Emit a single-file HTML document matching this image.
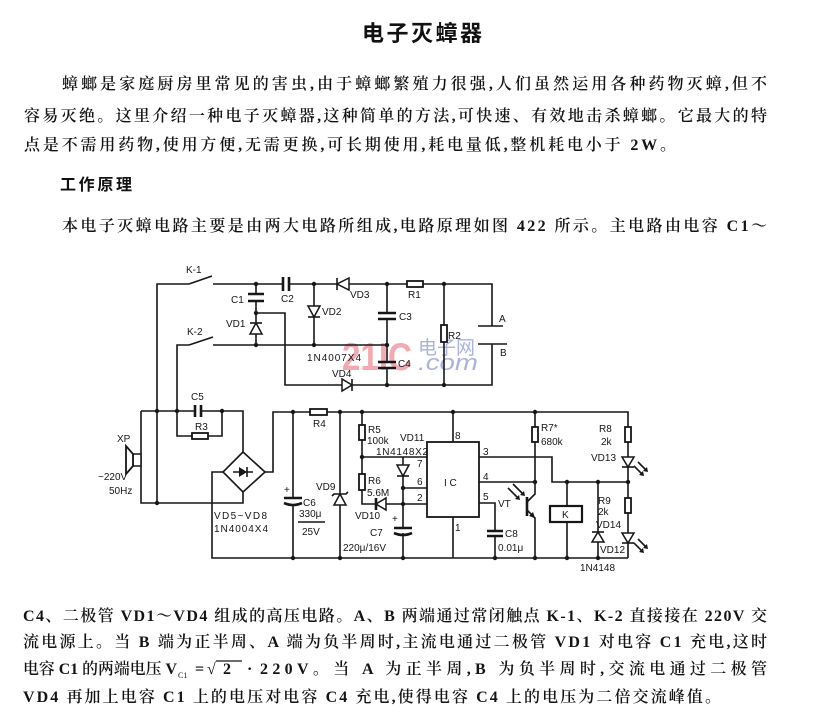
<!DOCTYPE html>
<html><head><meta charset="utf-8">
<style>
html,body{margin:0;padding:0;background:#fff;}
body{width:827px;height:712px;overflow:hidden;}
svg{display:block;}
.t{font-family:"Liberation Serif","Noto Serif CJK SC",serif;font-size:16px;font-weight:600;fill:#141414;}
.h{font-family:"Liberation Sans","Noto Sans CJK SC",sans-serif;font-weight:bold;fill:#111;}
.l{font-family:"Liberation Sans",sans-serif;font-size:10px;fill:#161616;}
.w{stroke:#161616;stroke-width:1.6;fill:none;}
.c{stroke:#161616;stroke-width:2.6;fill:none;}
.d{fill:#161616;}
.dio{fill:#fff;stroke:#161616;stroke-width:1.5;}
.r{fill:#fff;stroke:#161616;stroke-width:1.8;}
</style></head>
<body>
<svg width="827" height="712" viewBox="0 0 827 712" xmlns="http://www.w3.org/2000/svg">
<!-- Title -->
<text class="h" x="362" y="41" font-size="22" textLength="120" lengthAdjust="spacing">电子灭蟑器</text>

<!-- Paragraph 1 -->
<text class="t" x="62" y="89" textLength="705" lengthAdjust="spacing">蟑螂是家庭厨房里常见的害虫,由于蟑螂繁殖力很强,人们虽然运用各种药物灭蟑,但不</text>
<text class="t" x="24" y="121" textLength="743" lengthAdjust="spacing">容易灭绝。这里介绍一种电子灭蟑器,这种简单的方法,可快速、有效地击杀蟑螂。它最大的特</text>
<text class="t" x="24" y="150" textLength="652" lengthAdjust="spacing">点是不需用药物,使用方便,无需更换,可长期使用,耗电量低,整机耗电小于 2W。</text>

<text class="h" x="60" y="190" font-size="16" textLength="72" lengthAdjust="spacing">工作原理</text>

<text class="t" x="62" y="231" textLength="705" lengthAdjust="spacing">本电子灭蟑电路主要是由两大电路所组成,电路原理如图 422 所示。主电路由电容 C1～</text>

<!-- Bottom paragraph -->
<text class="t" x="23" y="621" textLength="744" lengthAdjust="spacing">C4、二极管 VD1～VD4 组成的高压电路。A、B 两端通过常闭触点 K-1、K-2 直接接在 220V 交</text>
<text class="t" x="23" y="647" textLength="744" lengthAdjust="spacing">流电源上。当 B 端为正半周、A 端为负半周时,主流电通过二极管 VD1 对电容 C1 充电,这时</text>
<text class="t" x="23" y="674" textLength="154" lengthAdjust="spacingAndGlyphs">电容 C1 的两端电压 V</text>
<text x="178" y="678" font-family="Liberation Serif,serif" font-size="8" fill="#141414">C1</text>
<text class="t" x="195" y="674">=</text>
<text class="t" x="207" y="674">√</text>
<text class="t" x="223" y="674">2</text>
<line x1="216" y1="661" x2="242" y2="661" stroke="#141414" stroke-width="1.2"/>
<text class="t" x="247" y="674">·</text>
<text class="t" x="260" y="674" textLength="507" lengthAdjust="spacing">220V。当 A 为正半周,B 为负半周时,交流电通过二极管</text>
<text class="t" x="23" y="702" textLength="698" lengthAdjust="spacing">VD4 再加上电容 C1 上的电压对电容 C4 充电,使得电容 C4 上的电压为二倍交流峰值。</text>

<!-- Watermark -->
<text x="342" y="370" font-family="Liberation Sans,sans-serif" font-weight="bold" font-size="39" fill="#f2a9b0" textLength="70" lengthAdjust="spacingAndGlyphs">21IC</text>
<text x="418" y="354" font-family="Liberation Sans,'Noto Sans CJK SC',sans-serif" font-size="19" fill="#aab2de" textLength="57" lengthAdjust="spacingAndGlyphs">电子网</text>
<text x="418" y="370" font-family="Liberation Sans,sans-serif" font-style="italic" font-size="22" fill="#aab2de" textLength="60" lengthAdjust="spacingAndGlyphs">.com</text>

<!-- ============ Upper circuit ============ -->
<path class="w" d="M157,503 V284 H189"/>
<path class="w" d="M189,284 L212,276"/>
<path class="w" d="M213,284 H283 M290,284 H492 V326"/>
<path class="c" d="M283,277 V291 M289,277 V291"/>
<polygon class="dio" points="337,284 349,278 349,290"/>
<path class="w" d="M337,278 V290"/>
<rect class="r" x="407" y="281" width="16" height="6"/>
<path class="w" d="M478,326 H503 M478,344 H507"/>
<path class="w" d="M492,344 V385 H285 V313 H256"/>
<path class="w" d="M177,411 V345 H189"/>
<path class="w" d="M189,345 L213,337"/>
<path class="w" d="M213,345 H387"/>
<path class="w" d="M256,284 V294 M256,301 V345"/>
<path class="c" d="M248,294 H264 M248,301 H264"/>
<polygon class="dio" points="250,334 262,334 256,323"/>
<path class="w" d="M250,323 H262"/>
<path class="w" d="M314,284 V345"/>
<polygon class="dio" points="308,306 320,306 314,317"/>
<path class="w" d="M308,317 H320"/>
<path class="w" d="M387,284 V313 M387,319 V362 M387,368 V385"/>
<path class="c" d="M378,313 H396 M378,319 H396 M378,362 H396 M378,368 H396"/>
<path class="w" d="M444,284 V385"/>
<rect class="r" x="441" y="325" width="6" height="17"/>
<polygon class="dio" points="342,379 342,391 352,385"/>
<path class="w" d="M352,379 V391"/>
<g class="d">
<circle cx="256" cy="284" r="2.2"/><circle cx="314" cy="284" r="2.2"/><circle cx="387" cy="284" r="2.2"/><circle cx="444" cy="284" r="2.2"/>
<circle cx="256" cy="313" r="2.2"/><circle cx="256" cy="345" r="2.2"/><circle cx="314" cy="345" r="2.2"/><circle cx="387" cy="345" r="2.2"/>
<circle cx="387" cy="385" r="2.2"/><circle cx="444" cy="385" r="2.2"/>
</g>
<text class="l" x="186" y="273">K-1</text>
<text class="l" x="187" y="335">K-2</text>
<text class="l" x="231" y="303">C1</text>
<text class="l" x="281" y="302">C2</text>
<text class="l" x="226" y="327">VD1</text>
<text class="l" x="322" y="315">VD2</text>
<text class="l" x="350" y="298">VD3</text>
<text class="l" x="408" y="298">R1</text>
<text class="l" x="399" y="320">C3</text>
<text class="l" x="448" y="339">R2</text>
<text class="l" x="499" y="322">A</text>
<text class="l" x="500" y="356">B</text>
<text class="l" x="307" y="361" textLength="54">1N4007X4</text>
<text class="l" x="398" y="367">C4</text>
<text class="l" x="332" y="377">VD4</text>

<!-- ============ Lower circuit ============ -->
<path class="w" d="M141,411 H195 M201,411 H243 V452"/>
<path class="c" d="M195,405 V417 M201,405 V417"/>
<path class="w" d="M177,411 V436 H222 V411"/>
<rect class="r" x="192" y="433" width="16" height="6"/>
<path class="w" d="M141,411 V503 H243 V492"/>
<polygon points="133,454 141,454 141,466 133,466" fill="#fff" stroke="#161616" stroke-width="1.5"/>
<polygon points="133,454 126,446 126,474 133,466" fill="#fff" stroke="#161616" stroke-width="1.8"/>
<polygon points="243,452 265,472 243,492 223,472" fill="#fff" stroke="#161616" stroke-width="1.6"/>
<path class="w" d="M233,472 H253"/>
<polygon points="239,467 239,477 247,472" fill="#161616"/>
<path class="w" d="M247,467 V477"/>
<path class="w" d="M223,472 H212 V558 H628"/>
<path class="w" d="M265,472 H273 V412 H628 V558"/>
<rect class="r" x="310" y="409" width="17" height="6"/>
<path class="w" d="M293,412 V498 M293,504 V558"/>
<path class="c" d="M284,498 H302"/>
<path class="c" d="M284,503 Q293,507 302,503"/>
<text class="l" x="284" y="493">+</text>
<path class="w" d="M340,412 V558"/>
<polygon class="dio" points="334,505 346,505 340,494"/>
<path class="w" d="M332,496 L334,494 H346 L348,492"/>
<path class="w" d="M362,412 V504 H427"/>
<rect class="r" x="359" y="425" width="6" height="15"/>
<rect class="r" x="359" y="474" width="6" height="16"/>
<path class="w" d="M362,457 H427"/>
<polygon class="dio" points="376,504 386,498 386,510"/>
<path class="c" d="M376,498 V510"/>
<path class="w" d="M403,457 V528 M403,533 V558"/>
<polygon class="dio" points="397,465 409,465 403,476"/>
<path class="w" d="M397,476 H409"/>
<path class="w" d="M403,488 H427"/>
<path class="c" d="M394,528 H412"/>
<path class="c" d="M394,533 Q403,537 412,533"/>
<text class="l" x="392" y="522">+</text>
<rect x="427" y="442" width="52" height="75" fill="#fff" stroke="#161616" stroke-width="1.8"/>
<path class="w" d="M453,412 V442 M453,517 V558"/>
<path class="w" d="M479,457 H552 V482 H628"/>
<path class="w" d="M479,482 H535"/>
<path class="w" d="M479,503 H495 V531 M495,536 V558"/>
<path class="c" d="M487,531 H503 M487,536 H503"/>
<path class="w" d="M535,412 V494 L527,502"/>
<rect class="r" x="532" y="427" width="6" height="15"/>
<path class="c" d="M527,497 V516"/>
<path class="w" d="M527,510 L535,518 V558"/>
<polygon points="535,518 529,516 533,512" fill="#161616"/>
<path class="w" d="M508,488 L519,499 M513,484 L524,495" stroke-width="1.2"/>
<polygon points="520,500 515,499 519,495" fill="#161616"/>
<polygon points="525,496 520,495 524,491" fill="#161616"/>
<path class="w" d="M567,482 V506 M567,522 V558"/>
<rect x="550" y="506" width="32" height="16" fill="#fff" stroke="#161616" stroke-width="2.2"/>
<text class="l" x="562" y="518" font-size="11">K</text>
<path class="w" d="M598,482 V558"/>
<polygon class="dio" points="592,542 604,542 598,532"/>
<path class="w" d="M592,532 H604"/>
<rect class="r" x="625" y="427" width="6" height="15"/>
<polygon class="dio" points="622,457 634,457 628,467"/>
<path class="w" d="M622,467 H634"/>
<path class="w" d="M634,466 L643,475 M638,462 L647,471" stroke-width="1.2"/>
<polygon points="644,476 639,475 643,471" fill="#161616"/>
<polygon points="648,472 643,471 647,467" fill="#161616"/>
<rect class="r" x="625" y="498" width="6" height="15"/>
<polygon class="dio" points="622,533 634,533 628,543"/>
<path class="w" d="M622,543 H634"/>
<path class="w" d="M634,543 L643,552 M638,539 L647,548" stroke-width="1.2"/>
<polygon points="644,553 639,552 643,548" fill="#161616"/>
<polygon points="648,549 643,548 647,544" fill="#161616"/>
<g class="d">
<circle cx="157" cy="411" r="2.2"/><circle cx="177" cy="411" r="2.2"/><circle cx="222" cy="411" r="2.2"/><circle cx="157" cy="503" r="2.2"/>
<circle cx="293" cy="412" r="2.2"/><circle cx="340" cy="412" r="2.2"/><circle cx="362" cy="412" r="2.2"/><circle cx="453" cy="412" r="2.2"/><circle cx="535" cy="412" r="2.2"/>
<circle cx="362" cy="457" r="2.2"/><circle cx="403" cy="488" r="2.2"/><circle cx="403" cy="504" r="2.2"/>
<circle cx="535" cy="482" r="2.2"/><circle cx="567" cy="482" r="2.2"/><circle cx="598" cy="482" r="2.2"/><circle cx="628" cy="482" r="2.2"/>
<circle cx="293" cy="558" r="2.2"/><circle cx="340" cy="558" r="2.2"/><circle cx="403" cy="558" r="2.2"/><circle cx="495" cy="558" r="2.2"/>
<circle cx="535" cy="558" r="2.2"/><circle cx="567" cy="558" r="2.2"/><circle cx="598" cy="558" r="2.2"/>
</g>
<text class="l" x="191" y="400">C5</text>
<text class="l" x="195" y="430">R3</text>
<text class="l" x="117" y="442">XP</text>
<text class="l" x="98" y="480">~220V</text>
<text class="l" x="109" y="494">50Hz</text>
<text class="l" x="214" y="519" textLength="53">VD5~VD8</text>
<text class="l" x="214" y="532" textLength="54">1N4004X4</text>
<text class="l" x="313" y="427">R4</text>
<text class="l" x="303" y="506">C6</text>
<text class="l" x="299" y="517">330μ</text>
<path class="w" d="M298,522 H325" stroke-width="1.2"/>
<text class="l" x="302" y="535">25V</text>
<text class="l" x="316" y="490">VD9</text>
<text class="l" x="368" y="433">R5</text>
<text class="l" x="367" y="444">100k</text>
<text class="l" x="400" y="441">VD11</text>
<text class="l" x="376" y="455" textLength="52">1N4148X2</text>
<text class="l" x="368" y="484">R6</text>
<text class="l" x="367" y="496">5.6M</text>
<text class="l" x="355" y="519">VD10</text>
<text class="l" x="370" y="536">C7</text>
<text class="l" x="343" y="551">220μ/16V</text>
<text class="l" x="417" y="467">7</text>
<text class="l" x="417" y="485">6</text>
<text class="l" x="417" y="501">2</text>
<text class="l" x="455" y="439">8</text>
<text class="l" x="483" y="455">3</text>
<text class="l" x="483" y="480">4</text>
<text class="l" x="483" y="500">5</text>
<text class="l" x="455" y="531">1</text>
<text class="l" x="444" y="486" font-size="11">I C</text>
<text class="l" x="541" y="431">R7*</text>
<text class="l" x="541" y="445">680k</text>
<text class="l" x="498" y="507">VT</text>
<text class="l" x="505" y="537">C8</text>
<text class="l" x="498" y="551">0.01μ</text>
<text class="l" x="599" y="432">R8</text>
<text class="l" x="601" y="445">2k</text>
<text class="l" x="591" y="461">VD13</text>
<text class="l" x="598" y="504">R9</text>
<text class="l" x="598" y="515">2k</text>
<text class="l" x="596" y="528">VD14</text>
<text class="l" x="600" y="553">VD12</text>
<text class="l" x="580" y="571">1N4148</text>
</svg>
</body></html>
